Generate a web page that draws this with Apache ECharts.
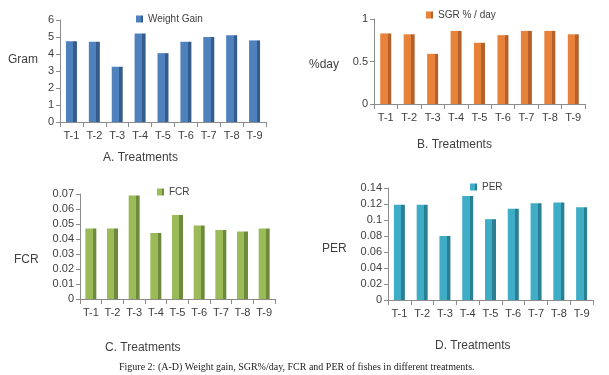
<!DOCTYPE html>
<html>
<head>
<meta charset="utf-8">
<script src="https://cdn.jsdelivr.net/npm/echarts@6/dist/echarts.min.js"></script>
<style>
  html, body { margin: 0; padding: 0; background: #fff; }
  #chart { width: 609px; height: 375px; }
</style>
</head>
<body>
<div id="chart"></div>
<script>
// treatments and values
var treatments = ['T-1', 'T-2', 'T-3', 'T-4', 'T-5', 'T-6', 'T-7', 'T-8', 'T-9'];
var weightGain = [4.75, 4.72, 3.25, 5.2, 4.05, 4.72, 5.0, 5.1, 4.8];
var sgr = [0.83, 0.82, 0.59, 0.86, 0.72, 0.81, 0.86, 0.86, 0.82];
var fcr = [0.047, 0.047, 0.069, 0.044, 0.056, 0.049, 0.046, 0.045, 0.047];
var per = [0.119, 0.119, 0.080, 0.130, 0.101, 0.114, 0.121, 0.122, 0.116];

var font = 'Liberation Sans';
var txt = '#404040';
var axisCol = '#8c8c8c';

// fake 3d look: light front face + dark side face
function face(light, dark) {
    return {
        type: 'linear', x: 0, y: 0, x2: 1, y2: 0,
        colorStops: [
            {offset: 0, color: light},
            {offset: 0.68, color: light},
            {offset: 0.68, color: dark},
            {offset: 1, color: dark}
        ]
    };
}

var grids = [
    {left: 60, top: 20, width: 206, height: 102},
    {left: 374, top: 19, width: 211, height: 85},
    {left: 80, top: 194, width: 195, height: 105},
    {left: 388, top: 188, width: 205, height: 112}
];

var yCfg = [
    {max: 6, interval: 1},
    {max: 1, interval: 0.5},
    {max: 0.07, interval: 0.01},
    {max: 0.14, interval: 0.02}
];

var xAxes = [], yAxes = [];
for (var i = 0; i < 4; i++) {
    xAxes.push({
        type: 'category', gridIndex: i, data: treatments,
        axisLine: {lineStyle: {color: axisCol}},
        axisTick: {show: true, length: 5, lineStyle: {color: axisCol}},
        axisLabel: {color: txt, fontFamily: font, fontSize: 11, margin: 8}
    });
    yAxes.push({
        type: 'value', gridIndex: i, min: 0, max: yCfg[i].max, interval: yCfg[i].interval,
        axisLine: {show: true, lineStyle: {color: axisCol}},
        axisTick: {show: true, length: 4, lineStyle: {color: axisCol}},
        splitLine: {show: false},
        axisLabel: {
            color: txt, fontFamily: font, fontSize: 11, margin: 6,
            formatter: function (v) { return String(+v.toFixed(2)); }
        }
    });
}

function bars(name, idx, data, light, dark) {
    return {
        name: name, type: 'bar', xAxisIndex: idx, yAxisIndex: idx,
        data: data, barWidth: 11,
        itemStyle: {color: face(light, dark)}
    };
}

var legendBase = {
    icon: 'rect', itemWidth: 7, itemHeight: 7, itemGap: 4,
    textStyle: {color: txt, fontFamily: font, fontSize: 10}
};

function label(text, x, y, size) {
    return {
        text: text, left: x, top: y,
        textStyle: {color: txt, fontFamily: font, fontSize: size || 12, fontWeight: 'normal'}
    };
}

var chart = echarts.init(document.getElementById('chart'));
chart.setOption({
    backgroundColor: '#fff',
    animation: false,
    grid: grids,
    xAxis: xAxes,
    yAxis: yAxes,
    legend: [
        Object.assign({data: ['Weight Gain'], left: 131, top: 9}, legendBase),
        Object.assign({data: ['SGR % / day'], left: 421, top: 5}, legendBase),
        Object.assign({data: ['FCR'], left: 152, top: 182}, legendBase),
        Object.assign({data: ['PER'], left: 465, top: 177}, legendBase)
    ],
    title: [
        label('Gram', 3, 49),
        label('%day', 304, 54),
        label('FCR', 9, 249),
        label('PER', 317, 238),
        label('A. Treatments', 98, 147),
        label('B. Treatments', 412, 134),
        label('C. Treatments', 100, 337),
        label('D. Treatments', 430, 335),
        {
            text: 'Figure 2: (A-D) Weight gain, SGR%/day, FCR and PER of fishes in different treatments.',
            left: 114, top: 357,
            textStyle: {color: '#222', fontFamily: 'Liberation Serif', fontSize: 10, fontWeight: 'normal'}
        }
    ],
    series: [
        bars('Weight Gain', 0, weightGain, '#4F81BD', '#345C8C'),
        bars('SGR % / day', 1, sgr, '#E8823B', '#B5602A'),
        bars('FCR', 2, fcr, '#9BBB59', '#6E8B3D'),
        bars('PER', 3, per, '#3FADC6', '#2A7F93')
    ]
});
</script>
</body>
</html>
